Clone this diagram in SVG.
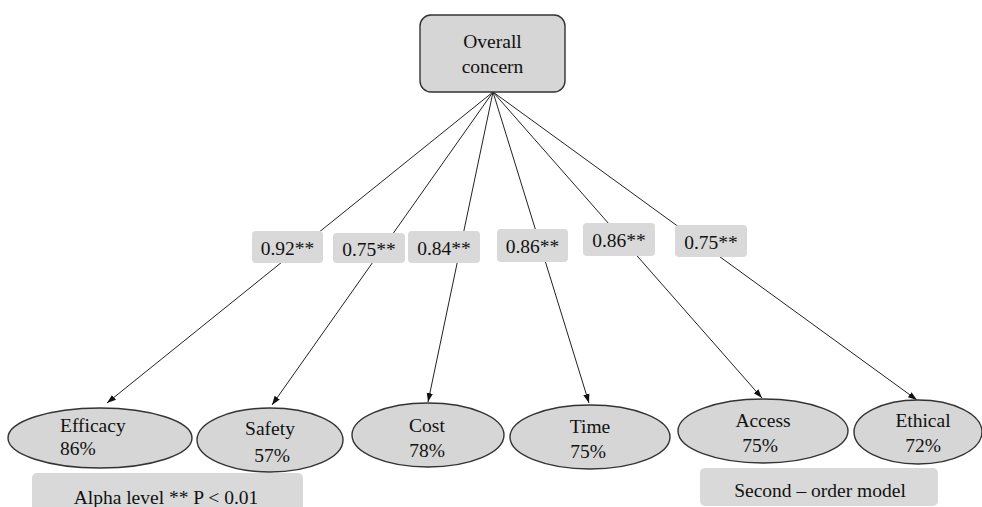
<svg xmlns="http://www.w3.org/2000/svg" width="982" height="507" viewBox="0 0 982 507">
<style>
text{font-family:'Liberation Serif','Times New Roman','DejaVu Serif',serif;font-size:19.5px;fill:#111;text-anchor:middle}
.node{fill:#d6d6d6;stroke:#333;stroke-width:1.4}
.lbl{fill:#d9d9d9;stroke:none}
.edge{stroke:#222;stroke-width:1;fill:none;marker-end:url(#ah)}
</style>
<defs>
<marker id="ah" viewBox="0 0 10 10" refX="10" refY="5" markerWidth="9" markerHeight="9" markerUnits="userSpaceOnUse" orient="auto">
<path d="M0,1.5 L10,5 L0,8.5 z" fill="#111"/>
</marker>
</defs>
<rect width="982" height="507" fill="#fff"/>
<g id="connectors">
<line class="edge" x1="493" y1="92" x2="107" y2="403"/>
<line class="edge" x1="493" y1="92" x2="272" y2="405"/>
<line class="edge" x1="493" y1="92" x2="428" y2="402"/>
<line class="edge" x1="493" y1="92" x2="589" y2="403"/>
<line class="edge" x1="493" y1="92" x2="762" y2="398"/>
<line class="edge" x1="493" y1="92" x2="917" y2="400"/>
</g>
<g font-family="Liberation Serif, Times New Roman, serif">
<g id="labels">
<g id="l1"><rect class="lbl" x="252" y="231" width="71" height="32" rx="4"/><text x="287.5" y="255">0.92**</text></g>
<g id="l2"><rect class="lbl" x="333" y="233" width="72" height="30" rx="4"/><text x="369" y="256">0.75**</text></g>
<g id="l3"><rect class="lbl" x="408" y="231" width="72" height="32" rx="4"/><text x="444" y="255">0.84**</text></g>
<g id="l4"><rect class="lbl" x="497" y="229" width="71" height="33" rx="4"/><text x="532.5" y="253">0.86**</text></g>
<g id="l5"><rect class="lbl" x="583" y="223" width="72" height="33" rx="4"/><text x="619" y="247">0.86**</text></g>
<g id="l6"><rect class="lbl" x="675" y="225" width="72" height="32" rx="4"/><text x="711" y="249">0.75**</text></g>
</g>
<g id="overall"><rect class="node" x="420" y="15" width="145" height="77" rx="11"/><text x="492.5" y="48">Overall</text><text x="492.5" y="73">concern</text></g>
<g id="efficacy"><ellipse class="node" cx="100" cy="438" rx="92" ry="30"/><text x="60" y="432" style="text-anchor:start">Efficacy</text><text x="60" y="455" style="text-anchor:start">86%</text></g>
<g id="safety"><ellipse class="node" cx="270" cy="440" rx="73" ry="32"/><text x="270" y="435">Safety</text><text x="272" y="462">57%</text></g>
<g id="cost"><ellipse class="node" cx="428" cy="435" rx="76" ry="32"/><text x="427" y="432">Cost</text><text x="427" y="457">78%</text></g>
<g id="time"><ellipse class="node" cx="590" cy="437" rx="80" ry="32"/><text x="590" y="433">Time</text><text x="588" y="458">75%</text></g>
<g id="access"><ellipse class="node" cx="763" cy="431" rx="85" ry="32"/><text x="763" y="427">Access</text><text x="760" y="452">75%</text></g>
<g id="ethical"><ellipse class="node" cx="918" cy="432" rx="64" ry="32"/><text x="923" y="427">Ethical</text><text x="923" y="452">72%</text></g>
<g id="alpha"><rect class="lbl" x="32" y="473" width="271" height="40" rx="5"/><text x="166" y="504">Alpha level ** P &lt; 0.01</text></g>
<g id="model"><rect class="lbl" x="700" y="468" width="238" height="38" rx="5"/><text x="820" y="497">Second – order model</text></g>
</g>
</svg>
